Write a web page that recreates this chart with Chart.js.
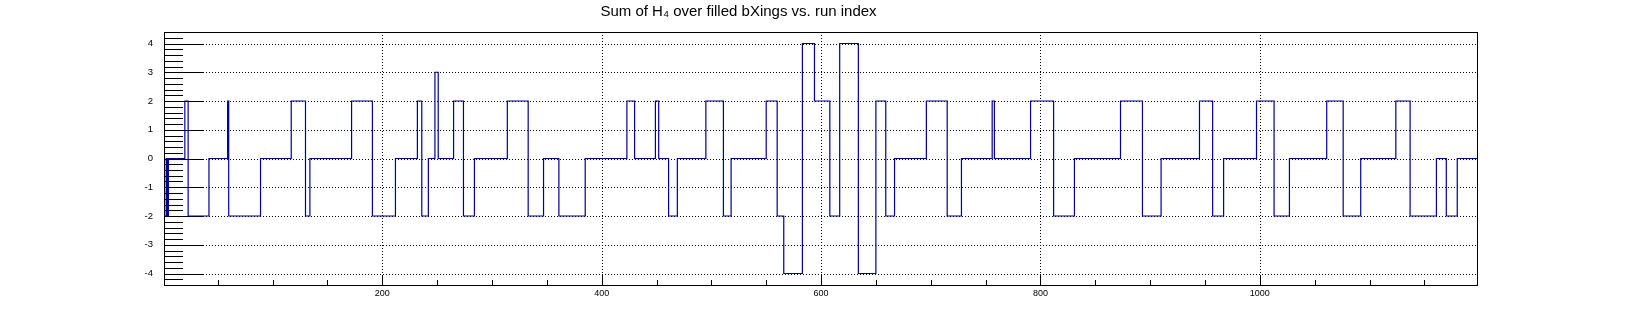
<!DOCTYPE html>
<html>
<head>
<meta charset="utf-8">
<script src="https://cdn.jsdelivr.net/npm/chart.js@4.4.0/dist/chart.umd.min.js"></script>
<style>
html,body{margin:0;padding:0;background:#fff;}
#wrap{width:1640px;height:317px;}
</style>
</head>
<body>
<div id="wrap"><canvas id="c" width="1640" height="317"></canvas></div>
<script>
// ---- data ----
const titleText = "Sum of H\u2084 over filled bXings vs. run index";
// run index where each constant step starts
const runStarts = [1,3,4,5,20,23,42,59,60,89,117,130,134,172,191,212,232,236,242,248,
  251,265,274,284,314,333,347,361,385,423,430,449,452,461,469,495,511,518,550,560,
  566,583,594,608,617,634,650,659,667,696,715,728,756,758,791,812,831,873,893,910,
  945,957,967,997,1013,1027,1061,1076,1092,1124,1137,1161,1170,1180];
// sum of H4 on each step
const sumH4 = [-2,0,-2,0,2,-2,0,2,-2,0,2,-2,0,2,-2,0,2,-2,0,3,
  0,2,-2,0,2,-2,0,-2,0,2,0,2,0,-2,0,2,-2,0,2,-2,
  -4,4,2,-2,4,-4,2,-2,0,2,-2,0,2,0,2,-2,0,2,-2,0,
  2,-2,0,2,-2,0,2,-2,0,2,-2,0,-2,0];
const lastRunEdge = 1198;
const xTickLabels = [200,400,600,800,1000];
const yTickLabels = [-4,-3,-2,-1,0,1,2,3,4];
const xRange = [1,1198];
const yRange = [-4.4,4.4];

// ---- build points ----
const points = runStarts.map((x,i)=>({x:x,y:sumH4[i]}));
points.push({x:lastRunEdge,y:sumH4[sumH4.length-1]});

const FONT = "'Liberation Sans', Arial, Helvetica, sans-serif";

const rootFrame = {
  id:'rootFrame',
  beforeDatasetsDraw(chart){
    const ctx=chart.ctx, a=chart.chartArea, xs=chart.scales.x, ys=chart.scales.y;
    ctx.save();
    // dotted grid
    ctx.strokeStyle='#000'; ctx.lineWidth=1; ctx.setLineDash([1,2]);
    yTickLabels.forEach(v=>{
      const y=Math.round(ys.getPixelForValue(v))+0.5;
      ctx.beginPath(); ctx.moveTo(a.left,y); ctx.lineTo(a.right,y); ctx.stroke();
    });
    xTickLabels.forEach(v=>{
      const x=Math.round(xs.getPixelForValue(v))+0.5;
      ctx.beginPath(); ctx.moveTo(x,a.top); ctx.lineTo(x,a.bottom); ctx.stroke();
    });
    ctx.setLineDash([]);
    // y ticks (inside)
    for(let k=-22;k<=22;k++){
      const v=k*0.2;
      const major = (k%5===0);
      const y=Math.round(ys.getPixelForValue(v))+0.5;
      const len = major?39:19;
      ctx.beginPath(); ctx.moveTo(a.left,y); ctx.lineTo(a.left+len,y); ctx.stroke();
    }
    // x ticks (inside)
    for(let v=50; v<xRange[1]; v+=50){
      const x=Math.round(xs.getPixelForValue(v))+0.5;
      const len = (v%200===0)?9:5;
      ctx.beginPath(); ctx.moveTo(x,a.bottom); ctx.lineTo(x,a.bottom-len); ctx.stroke();
    }
    ctx.restore();
  },
  afterDatasetsDraw(chart){
    const ctx=chart.ctx, a=chart.chartArea;
    ctx.save();
    ctx.strokeStyle='#000'; ctx.lineWidth=1;
    ctx.strokeRect(Math.round(a.left)+0.5,Math.round(a.top)+0.5,Math.round(a.right-a.left),Math.round(a.bottom-a.top));
    ctx.restore();
  }
};

new Chart(document.getElementById('c'),{
  type:'line',
  data:{datasets:[{
    data:points,
    stepped:'before',
    borderColor:'#00009c',
    borderWidth:1.2,
    pointRadius:0,
    fill:false,
    tension:0
  }]},
  options:{
    responsive:false,
    animation:false,
    devicePixelRatio:1,
    layout:{padding:{left:0,right:163,top:0,bottom:0}},
    plugins:{
      legend:{display:false},
      tooltip:{enabled:false},
      title:{display:true,text:titleText,color:'#000',
        font:{family:FONT,size:15,weight:'normal'},
        padding:{top:3,bottom:11}}
    },
    scales:{
      x:{type:'linear',min:xRange[0],max:xRange[1],
        grid:{display:false,drawTicks:false},
        border:{display:false},
        afterBuildTicks(s){s.ticks=xTickLabels.map(v=>({value:v}));},
        afterFit(s){s.height=32;},
        ticks:{color:'#000',font:{family:FONT,size:9},padding:3,maxRotation:0,autoSkip:false,
          callback:(v)=>String(v)}
      },
      y:{type:'linear',min:yRange[0],max:yRange[1],
        grid:{display:false,drawTicks:false},
        border:{display:false},
        afterBuildTicks(s){s.ticks=yTickLabels.map(v=>({value:v}));},
        afterFit(s){s.width=164;},
        ticks:{color:'#000',font:{family:FONT,size:9.5},padding:11,autoSkip:false,
          callback:(v)=>String(v)}
      }
    }
  },
  plugins:[rootFrame]
});
</script>
</body>
</html>
